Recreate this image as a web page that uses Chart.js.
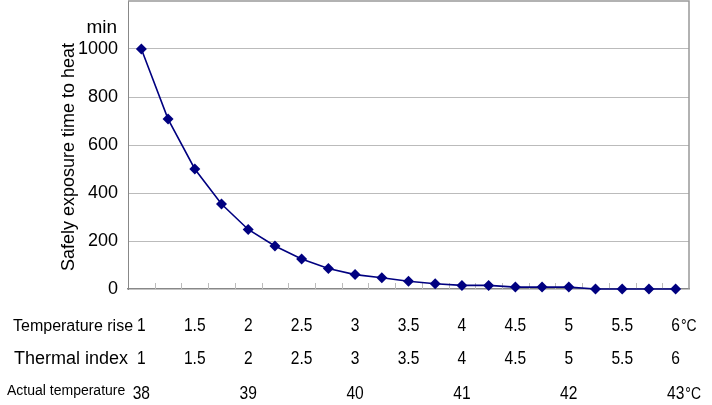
<!DOCTYPE html>
<html>
<head>
<meta charset="utf-8">
<script src="https://cdn.jsdelivr.net/npm/chart.js@4/dist/chart.umd.min.js"></script>
<style>
    html, body { margin: 0; padding: 0; background: #ffffff; }
    #wrap { width: 712px; height: 405px; }
</style>
</head>
<body>
<div id="wrap"><canvas id="chart"></canvas></div>
<script>
// Значения
const temperatureRise = ['1', '1.25', '1.5', '1.75', '2', '2.25', '2.5', '2.75', '3', '3.25', '3.5',
    '3.75', '4', '4.25', '4.5', '4.75', '5', '5.25', '5.5', '5.75', '6'];
const exposureMinutes = [1000, 708, 500, 354, 248, 179, 125, 85, 60, 47, 32, 22, 15, 15, 8, 8, 8, 0, 0, 0, 0];

// Подписи под осью
const riseTicks = ['1', '1.5', '2', '2.5', '3', '3.5', '4', '4.5', '5', '5.5', '6'];
const thermalIndex = ['1', '1.5', '2', '2.5', '3', '3.5', '4', '4.5', '5', '5.5', '6'];
const actualTempAt = ['1', '2', '3', '4', '5', '6'];
const actualTemps = ['38', '39', '40', '41', '42', '43'];

const yTicks = [0, 200, 400, 600, 800, 1000];

const REGULAR = '"Liberation Sans", Arial, sans-serif';

// узкий шрифт имитируем сжатием по горизонтали
function narrowText(ctx, text, x, y, align) {
    const k = 0.82;
    const w = ctx.measureText(text).width * k;
    let left = x;
    if (align === 'center') left = x - w / 2;
    else if (align === 'right') left = x - w;
    ctx.save();
    ctx.textAlign = 'left';
    ctx.translate(left, y);
    ctx.scale(k, 1);
    ctx.fillText(text, 0, 0);
    ctx.restore();
    return w;
}

const decorations = {
    id: 'decorations',
    beforeDatasetsDraw(chart) {
        const ctx = chart.ctx;
        const area = chart.chartArea;
        const x = chart.scales.x;
        ctx.save();
        // рамка сверху и справа
        ctx.strokeStyle = '#999999';
        ctx.lineWidth = 1.5;
        ctx.beginPath();
        ctx.moveTo(area.left, area.top);
        ctx.lineTo(area.right, area.top);
        ctx.lineTo(area.right, area.bottom);
        ctx.stroke();
        // короткие засечки между категориями
        ctx.strokeStyle = '#bbbbbb';
        ctx.lineWidth = 1;
        for (let i = 1; i < temperatureRise.length; i++) {
            const px = Math.round((x.getPixelForValue(i - 1) + x.getPixelForValue(i)) / 2) + 0.5;
            ctx.beginPath();
            ctx.moveTo(px, area.bottom - 6);
            ctx.lineTo(px, area.bottom);
            ctx.stroke();
        }
        ctx.restore();
    },
    afterDraw(chart) {
        const ctx = chart.ctx;
        const x = chart.scales.x;
        const y = chart.scales.y;
        ctx.save();
        ctx.fillStyle = '#000000';
        ctx.textBaseline = 'alphabetic';

        // заголовок оси Y
        ctx.save();
        ctx.translate(69, 157);
        ctx.rotate(-Math.PI / 2);
        ctx.font = '18px ' + REGULAR;
        ctx.textAlign = 'center';
        ctx.textBaseline = 'middle';
        ctx.fillText('Safely exposure time to heat', 0, 0);
        ctx.restore();

        ctx.font = '19px ' + REGULAR;
        ctx.textAlign = 'right';
        ctx.fillText('min', 117, y.getPixelForValue(1000) - 16);

        function row(labels, positions, baseline, unit) {
            ctx.font = '19px ' + REGULAR;
            labels.forEach((label, i) => {
                const px = x.getPixelForValue(temperatureRise.indexOf(positions[i]));
                const w = narrowText(ctx, label, px, baseline, 'center');
                if (unit && i === labels.length - 1) {
                    ctx.font = '17px ' + REGULAR;
                    narrowText(ctx, unit, px + w / 2 + 1, baseline, 'left');
                    ctx.font = '19px ' + REGULAR;
                }
            });
        }

        ctx.textAlign = 'left';
        ctx.font = '16px ' + REGULAR;
        ctx.fillText('Temperature rise', 13, 331);
        row(riseTicks, riseTicks, 331, '\u00b0C');

        ctx.textAlign = 'left';
        ctx.font = '18px ' + REGULAR;
        ctx.fillText('Thermal index', 14, 364);
        row(thermalIndex, riseTicks, 364, null);

        ctx.textAlign = 'left';
        ctx.font = '14px ' + REGULAR;
        ctx.fillText('Actual temperature', 7, 395);
        row(actualTemps, actualTempAt, 399, '\u00b0C');

        ctx.restore();
    }
};

new Chart(document.getElementById('chart'), {
    type: 'line',
    data: {
        labels: temperatureRise,
        datasets: [{
            data: exposureMinutes,
            borderColor: '#000080',
            backgroundColor: '#000080',
            borderWidth: 1.6,
            tension: 0,
            pointStyle: 'rectRot',
            pointRadius: 5.5,
            pointBorderWidth: 0,
            pointBackgroundColor: '#000080',
            clip: false
        }]
    },
    options: {
        responsive: true,
        maintainAspectRatio: false,
        animation: false,
        layout: { autoPadding: false, padding: { left: 0, top: 1, right: 23, bottom: 0 } },
        plugins: {
            legend: { display: false },
            tooltip: { enabled: false }
        },
        scales: {
            x: {
                type: 'category',
                offset: true,
                grid: { display: false, drawTicks: false },
                border: { color: '#888888', width: 1.5 },
                ticks: { display: false },
                afterFit: scale => {
                    scale.height = 116;
                    scale.paddingLeft = 0;
                    scale.paddingRight = 0;
                }
            },
            y: {
                min: 0,
                max: 1200,
                afterBuildTicks: scale => {
                    scale.ticks = yTicks.concat([1200]).map(v => ({ value: v }));
                },
                ticks: {
                    padding: 10,
                    color: '#000000',
                    font: { family: REGULAR, size: 18 },
                    callback: v => (v === 1200 ? '' : v)
                },
                grid: {
                    drawTicks: false,
                    color: c => (c.tick && (c.tick.value === 0 || c.tick.value === 1200) ? 'rgba(0,0,0,0)' : '#bbbbbb')
                },
                border: { color: '#888888', width: 1 },
                afterFit: scale => {
                    scale.width = 128;
                    scale.paddingTop = 0;
                    scale.paddingBottom = 0;
                }
            }
        }
    },
    plugins: [decorations]
});
</script>
</body>
</html>
